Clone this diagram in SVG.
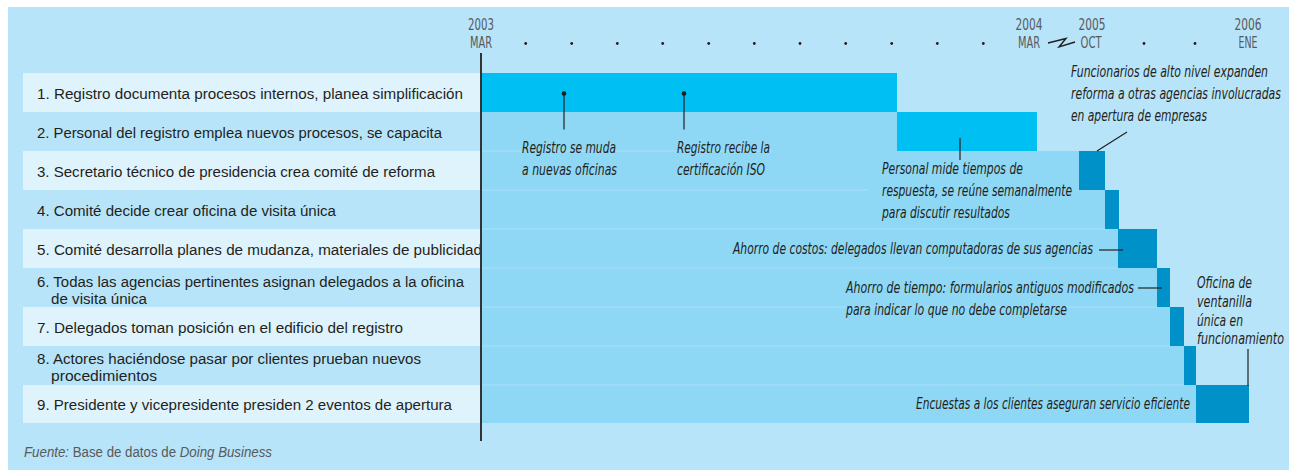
<svg xmlns="http://www.w3.org/2000/svg" width="1294" height="470" viewBox="0 0 1294 470">
<style>
.bg{fill:#b7e4f9}
.band{fill:#dff3fd}
.med{fill:#8ed8f6}
.bright{fill:#00bff3}
.dark{fill:#0091c9}
.sep{stroke:#a9dff8;stroke-width:1}
.lbl{font-family:'Liberation Sans',Arial,sans-serif;font-size:15.5px;fill:#231f20}
.ann{font-family:'Liberation Sans Narrow','DejaVu Sans Condensed','Liberation Sans',sans-serif;font-style:italic;font-size:16.5px;fill:#231f20}
.ax{font-family:'Liberation Sans Narrow','DejaVu Sans Condensed','Liberation Sans',sans-serif;font-size:15px;fill:#58595b;text-anchor:middle}
.src{font-family:'Liberation Sans',Arial,sans-serif;font-size:14px;fill:#58595b}
.lead{stroke:#231f20;stroke-width:1.2;fill:none}
.dot{fill:#231f20}
</style>
<rect class="bg" x="8" y="7" width="1281" height="463"/>

<g id="axis">
  <text class="ax" x="481" y="30" textLength="26" lengthAdjust="spacingAndGlyphs">2003</text><text class="ax" x="481" y="48" textLength="22" lengthAdjust="spacingAndGlyphs">MAR</text>
  <text class="ax" x="1029" y="30" textLength="27" lengthAdjust="spacingAndGlyphs">2004</text><text class="ax" x="1029" y="48" textLength="22" lengthAdjust="spacingAndGlyphs">MAR</text>
  <text class="ax" x="1092" y="30" textLength="27" lengthAdjust="spacingAndGlyphs">2005</text><text class="ax" x="1091" y="48" textLength="21" lengthAdjust="spacingAndGlyphs">OCT</text>
  <text class="ax" x="1248" y="30" textLength="27" lengthAdjust="spacingAndGlyphs">2006</text><text class="ax" x="1248" y="48" textLength="19" lengthAdjust="spacingAndGlyphs">ENE</text>
  <g class="dot">
    <circle cx="525.7" cy="43.5" r="1.4"/><circle cx="571.7" cy="43.5" r="1.4"/><circle cx="617.3" cy="43.5" r="1.4"/>
    <circle cx="662.7" cy="43.5" r="1.4"/><circle cx="708.7" cy="43.5" r="1.4"/><circle cx="754.3" cy="43.5" r="1.4"/>
    <circle cx="800" cy="43.5" r="1.4"/><circle cx="845.7" cy="43.5" r="1.4"/><circle cx="891.7" cy="43.5" r="1.4"/>
    <circle cx="937.3" cy="43.5" r="1.4"/><circle cx="983.3" cy="43.5" r="1.4"/>
    <circle cx="1144" cy="43.5" r="1.4"/><circle cx="1195" cy="43.5" r="1.4"/>
  </g>
  <path d="M1048,43 L1066,38.5 L1059,47 L1075,42" stroke="#231f20" stroke-width="1.4" fill="none"/>
</g>

<g id="bands">
  <rect class="band" x="23" y="73" width="457" height="39"/>
  <rect class="band" x="23" y="151" width="457" height="39"/>
  <rect class="band" x="23" y="229" width="457" height="39"/>
  <rect class="band" x="23" y="307" width="457" height="39"/>
  <rect class="band" x="23" y="385" width="457" height="38"/>
</g>

<g id="row1">
  <rect class="bright" x="481" y="73" width="416" height="39"/>
  <text class="lbl" x="37" y="98.5" textLength="426" lengthAdjust="spacingAndGlyphs">1. Registro documenta procesos internos, planea simplificación</text>
</g>
<g id="row2">
  <rect class="med" x="481" y="112" width="416" height="39"/>
  <rect class="bright" x="897" y="112" width="140" height="40"/>
  <text class="lbl" x="37" y="137.5" textLength="405" lengthAdjust="spacingAndGlyphs">2. Personal del registro emplea nuevos procesos, se capacita</text>
</g>
<g id="row3">
  <rect class="med" x="481" y="151" width="598" height="39"/>
  <rect class="dark" x="1079" y="151" width="26" height="39"/>
  <text class="lbl" x="37" y="176.5" textLength="398" lengthAdjust="spacingAndGlyphs">3. Secretario técnico de presidencia crea comité de reforma</text>
</g>
<g id="row4">
  <rect class="med" x="481" y="190" width="624" height="39"/>
  <rect class="dark" x="1105" y="190" width="14" height="39"/>
  <text class="lbl" x="37" y="215.5" textLength="299" lengthAdjust="spacingAndGlyphs">4. Comité decide crear oficina de visita única</text>
</g>
<g id="row5">
  <rect class="med" x="481" y="229" width="637" height="39"/>
  <rect class="dark" x="1118" y="229" width="39" height="39"/>
  <text class="lbl" x="37" y="254.5" textLength="445" lengthAdjust="spacingAndGlyphs">5. Comité desarrolla planes de mudanza, materiales de publicidad</text>
</g>
<g id="row6">
  <rect class="med" x="481" y="268" width="676" height="39"/>
  <rect class="dark" x="1157" y="268" width="13" height="39"/>
  <text class="lbl" x="37" y="286.5" textLength="427" lengthAdjust="spacingAndGlyphs">6. Todas las agencias pertinentes asignan delegados a la oficina</text>
  <text class="lbl" x="51" y="303.5" textLength="96" lengthAdjust="spacingAndGlyphs">de visita única</text>
</g>
<g id="row7">
  <rect class="med" x="481" y="307" width="689" height="39"/>
  <rect class="dark" x="1170" y="307" width="14" height="39"/>
  <text class="lbl" x="37" y="332.5" textLength="366" lengthAdjust="spacingAndGlyphs">7. Delegados toman posición en el edificio del registro</text>
</g>
<g id="row8">
  <rect class="med" x="481" y="346" width="703" height="39"/>
  <rect class="dark" x="1184" y="346" width="12" height="39"/>
  <text class="lbl" x="37" y="363.5" textLength="384" lengthAdjust="spacingAndGlyphs">8. Actores haciéndose pasar por clientes prueban nuevos</text>
  <text class="lbl" x="51" y="380.5" textLength="106" lengthAdjust="spacingAndGlyphs">procedimientos</text>
</g>
<g id="row9">
  <rect class="med" x="481" y="385" width="715" height="38"/>
  <rect class="dark" x="1196" y="385" width="53" height="38"/>
  <text class="lbl" x="37" y="410" textLength="415" lengthAdjust="spacingAndGlyphs">9. Presidente y vicepresidente presiden 2 eventos de apertura</text>
</g>

<g id="separators">
  <line class="sep" x1="481" y1="151" x2="772" y2="151"/>
  <line class="sep" x1="481" y1="190" x2="868" y2="190"/>
  <line class="sep" x1="481" y1="229" x2="1105" y2="229"/>
  <line class="sep" x1="481" y1="268" x2="1118" y2="268"/>
  <line class="sep" x1="481" y1="307" x2="1157" y2="307"/>
  <line class="sep" x1="481" y1="346" x2="1170" y2="346"/>
  <line class="sep" x1="481" y1="385" x2="1184" y2="385"/>
</g>

<line x1="481" y1="53" x2="481" y2="441" stroke="#333333" stroke-width="2"/>

<g id="connectors">
  <circle class="dot" cx="564" cy="93.5" r="2.3"/>
  <line class="lead" x1="564" y1="93.5" x2="564" y2="129.5"/>
  <circle class="dot" cx="684" cy="93.5" r="2.3"/>
  <line class="lead" x1="684" y1="93.5" x2="684" y2="129.5"/>
  <line class="lead" x1="960" y1="138" x2="960" y2="160"/>
  <line class="lead" x1="1127" y1="132" x2="1097" y2="151"/>
  <line class="lead" x1="1099" y1="250" x2="1123" y2="250"/>
  <line class="lead" x1="1138" y1="288" x2="1162" y2="288"/>
  <line class="lead" x1="1248" y1="349" x2="1248" y2="386"/>
</g>

<g id="ann-muda">
  <text class="ann" x="522" y="153" textLength="94" lengthAdjust="spacingAndGlyphs">Registro se muda</text>
  <text class="ann" x="522" y="175" textLength="95" lengthAdjust="spacingAndGlyphs">a nuevas oficinas</text>
</g>
<g id="ann-iso">
  <text class="ann" x="677" y="153" textLength="93" lengthAdjust="spacingAndGlyphs">Registro recibe la</text>
  <text class="ann" x="677" y="175" textLength="88" lengthAdjust="spacingAndGlyphs">certificación ISO</text>
</g>
<g id="ann-personal">
  <text class="ann" x="882" y="174" textLength="141" lengthAdjust="spacingAndGlyphs">Personal mide tiempos de</text>
  <text class="ann" x="882" y="196" textLength="190" lengthAdjust="spacingAndGlyphs">respuesta, se reúne semanalmente</text>
  <text class="ann" x="882" y="218" textLength="128" lengthAdjust="spacingAndGlyphs">para discutir resultados</text>
</g>
<g id="ann-funcionarios">
  <text class="ann" x="1071" y="77" textLength="197" lengthAdjust="spacingAndGlyphs">Funcionarios de alto nivel expanden</text>
  <text class="ann" x="1071" y="99" textLength="210" lengthAdjust="spacingAndGlyphs">reforma a otras agencias involucradas</text>
  <text class="ann" x="1071" y="121" textLength="136" lengthAdjust="spacingAndGlyphs">en apertura de empresas</text>
</g>
<g id="ann-costos">
  <text class="ann" x="733" y="254" textLength="360" lengthAdjust="spacingAndGlyphs">Ahorro de costos: delegados llevan computadoras de sus agencias</text>
</g>
<g id="ann-tiempo">
  <text class="ann" x="846" y="293" textLength="288" lengthAdjust="spacingAndGlyphs">Ahorro de tiempo: formularios antiguos modificados</text>
  <text class="ann" x="846" y="315" textLength="221" lengthAdjust="spacingAndGlyphs">para indicar lo que no debe completarse</text>
</g>
<g id="ann-oficina">
  <text class="ann" x="1197" y="288" textLength="55" lengthAdjust="spacingAndGlyphs">Oficina de</text>
  <text class="ann" x="1197" y="307" textLength="55" lengthAdjust="spacingAndGlyphs">ventanilla</text>
  <text class="ann" x="1197" y="326" textLength="46" lengthAdjust="spacingAndGlyphs">única en</text>
  <text class="ann" x="1197" y="344" textLength="87" lengthAdjust="spacingAndGlyphs">funcionamiento</text>
</g>
<g id="ann-encuestas">
  <text class="ann" x="916" y="409" textLength="274" lengthAdjust="spacingAndGlyphs">Encuestas a los clientes aseguran servicio eficiente</text>
</g>

<g id="source">
  <text class="src" x="24" y="457" textLength="248" lengthAdjust="spacingAndGlyphs"><tspan font-style="italic">Fuente:</tspan> Base de datos de <tspan font-style="italic">Doing Business</tspan></text>
</g>
</svg>
